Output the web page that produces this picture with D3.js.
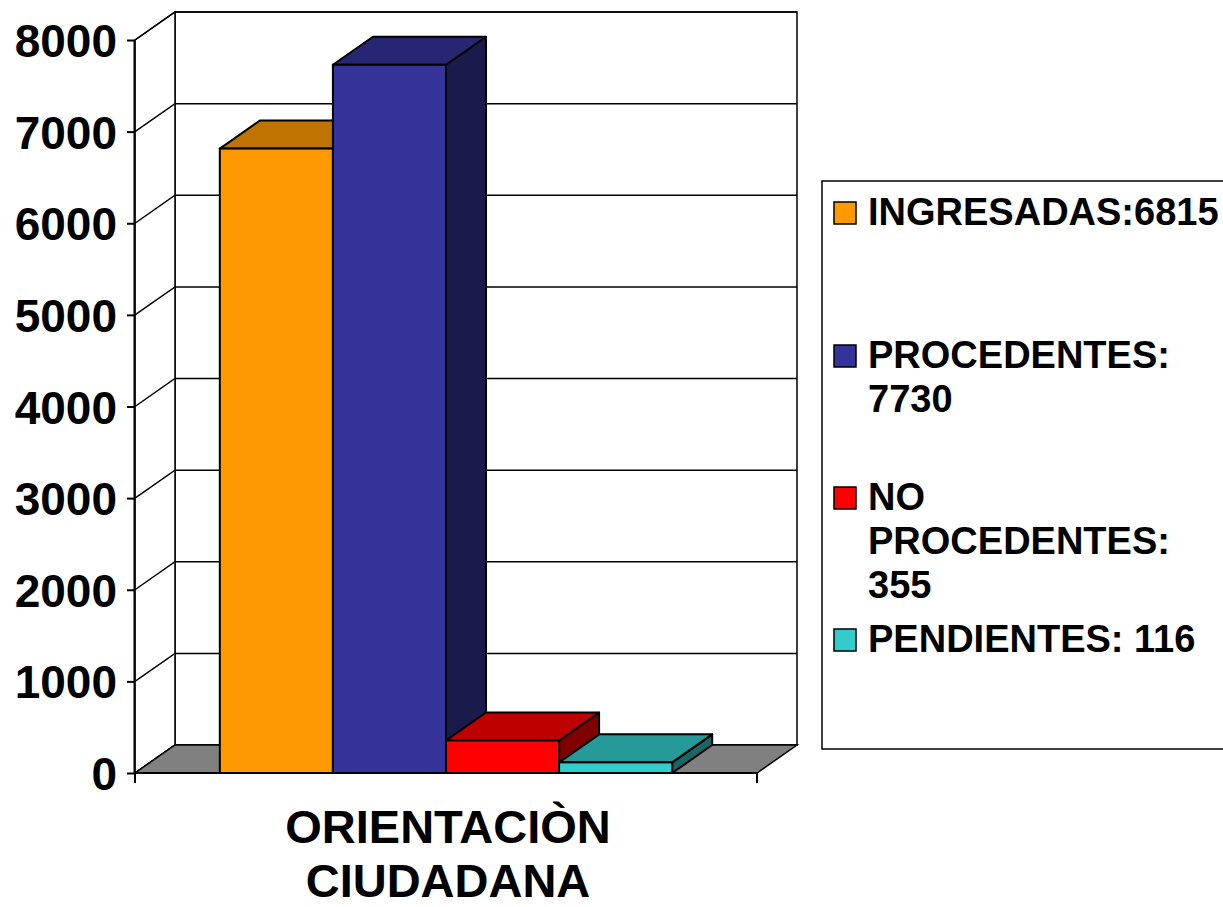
<!DOCTYPE html>
<html><head><meta charset="utf-8">
<script src="https://cdn.jsdelivr.net/npm/d3@7"></script>
<style>html,body{margin:0;padding:0;background:#fff;}svg{display:block;}</style>
</head><body>
<svg id="c" width="1223" height="907"></svg>
<script>
const categories = ["ORIENTACIÒN CIUDADANA"];
const categoryLines = ["ORIENTACIÒN", "CIUDADANA"];
const seriesNames = ["INGRESADAS", "PROCEDENTES", "NO PROCEDENTES", "PENDIENTES"];
const seriesValues = [6815, 7730, 355, 116];
const legendLines = [["INGRESADAS:6815"], ["PROCEDENTES:", "7730"], ["NO", "PROCEDENTES:", "355"], ["PENDIENTES: 116"]];
const yTicks = [0, 1000, 2000, 3000, 4000, 5000, 6000, 7000, 8000];
const frontColors = ["#FF9900", "#333399", "#FF0000", "#33CCCC"];
const topColors = ["#BF7300", "#262673", "#BF0000", "#269999"];
const sideColors = ["#805000", "#1A1A4D", "#800000", "#1A6666"];

const svg = d3.select("#c");
const font = "'Liberation Sans', Arial, Helvetica, sans-serif";
const DX = 40, DY = -28;
const y = d3.scaleLinear().domain([0, 8000]).range([773, 40]);
const xCat = d3.scaleBand().domain(categories).range([135, 757]);
const xSer = d3.scaleBand().domain(seriesNames)
  .range([xCat(categories[0]), xCat(categories[0]) + xCat.bandwidth()])
  .paddingInner(0).paddingOuter(0.75);

const x0 = 135, x1 = 757, yb = y(0), yt = y(8000);
const g = svg.append("g");
const line = (pts) => "M" + pts.map(p => p.join(",")).join("L");

// back wall
g.append("rect").attr("x", x0 + DX).attr("y", yt + DY).attr("width", x1 - x0).attr("height", yb - yt)
  .attr("fill", "#fff").attr("stroke", "#000").attr("stroke-width", 1.5);
// left wall
g.append("path").attr("d", line([[x0, yt], [x0 + DX, yt + DY], [x0 + DX, yb + DY], [x0, yb]]) + "Z")
  .attr("fill", "#fff").attr("stroke", "#000").attr("stroke-width", 1.5);
// gridlines
yTicks.forEach(t => {
  const yy = y(t);
  g.append("path").attr("d", line([[x0, yy], [x0 + DX, yy + DY], [x1 + DX, yy + DY]]))
    .attr("fill", "none").attr("stroke", "#000").attr("stroke-width", 1.5);
});
// floor
g.append("path").attr("d", line([[x0, yb], [x1, yb], [x1 + DX, yb + DY], [x0 + DX, yb + DY]]) + "Z")
  .attr("fill", "#808080").attr("stroke", "#000").attr("stroke-width", 1.5);

// y axis
const yAxis = d3.axisLeft(y).tickValues(yTicks).tickSize(8).tickPadding(10).tickFormat(d3.format("d"));
const ya = g.append("g").attr("transform", `translate(${x0},0)`).call(yAxis);
ya.select(".domain").attr("stroke", "#000").attr("stroke-width", 2).attr("d", `M-0.5,${yt}V${yb}`);
ya.selectAll(".tick line").attr("stroke", "#000").attr("stroke-width", 2);
ya.selectAll(".tick text").attr("fill", "#000").style("font-family", font).style("font-weight", "bold")
  .style("font-size", "46px").attr("dy", "0.36em");

// x axis
g.append("path").attr("d", `M${x0},${yb + 10}V${yb}H${x1}V${yb + 10}`)
  .attr("fill", "none").attr("stroke", "#000").attr("stroke-width", 2);
const xl = g.append("text").attr("text-anchor", "middle").style("font-family", font)
  .style("font-weight", "bold").style("font-size", "47px").attr("fill", "#000");
categoryLines.forEach((s, i) => {
  xl.append("tspan").attr("x", xCat(categories[0]) + xCat.bandwidth() / 2 + 2).attr("y", 843 + i * 54).text(s);
});

// bars
seriesNames.forEach((s, i) => {
  const bx = xSer(s), bw = xSer.bandwidth(), by = y(seriesValues[i]);
  const bg = g.append("g");
  bg.append("path").attr("d", line([[bx + bw, by], [bx + bw + DX, by + DY], [bx + bw + DX, yb + DY], [bx + bw, yb]]) + "Z")
    .attr("fill", sideColors[i]).attr("stroke", "#000").attr("stroke-width", 2).attr("stroke-linejoin", "round");
  bg.append("path").attr("d", line([[bx, by], [bx + DX, by + DY], [bx + bw + DX, by + DY], [bx + bw, by]]) + "Z")
    .attr("fill", topColors[i]).attr("stroke", "#000").attr("stroke-width", 2).attr("stroke-linejoin", "round");
  bg.append("rect").attr("x", bx).attr("y", by).attr("width", bw).attr("height", yb - by)
    .attr("fill", frontColors[i]).attr("stroke", "#000").attr("stroke-width", 2);
});

// legend
const lg = svg.append("g");
lg.append("rect").attr("x", 822).attr("y", 181).attr("width", 420).attr("height", 568)
  .attr("fill", "#fff").attr("stroke", "#000").attr("stroke-width", 1.5);
const legendTop = [225, 368, 510, 652];
seriesNames.forEach((s, i) => {
  lg.append("rect").attr("x", 834).attr("y", legendTop[i] - 23).attr("width", 22).attr("height", 22)
    .attr("fill", frontColors[i]).attr("stroke", "#000").attr("stroke-width", 1.5);
  const t = lg.append("text").style("font-family", font).style("font-weight", "bold")
    .style("font-size", "38px").attr("fill", "#000");
  legendLines[i].forEach((ln, j) => {
    t.append("tspan").attr("x", 868).attr("y", legendTop[i] + j * 44).text(ln);
  });
});
</script>
</body></html>
